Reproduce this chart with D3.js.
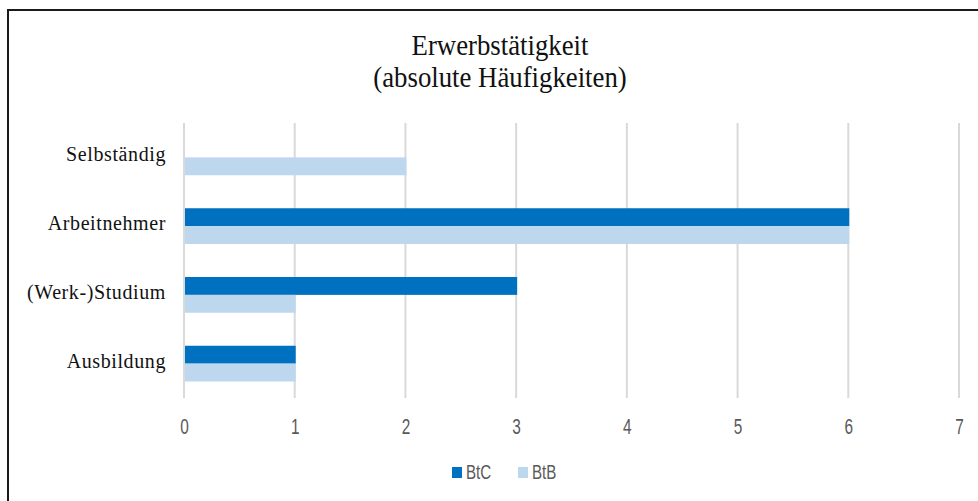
<!DOCTYPE html>
<html>
<head>
<meta charset="utf-8">
<script src="https://cdn.jsdelivr.net/npm/d3@7"></script>
<style>
	html, body { margin: 0; padding: 0; background: #fff; }
	#chart-holder { width: 978px; height: 501px; overflow: hidden; }
</style>
</head>
<body>
<div id="chart-holder"></div>
<script>
const categories = ['Selbständig', 'Arbeitnehmer', '(Werk-)Studium', 'Ausbildung'];
const seriesNames = ['BtC', 'BtB'];
const btcValues = [0, 6, 3, 1];
const btbValues = [2, 6, 1, 1];
const xTicks = [0, 1, 2, 3, 4, 5, 6, 7];
const titleLines = ['Erwerbstätigkeit', '(absolute Häufigkeiten)'];

const colors = { BtC: '#0070C0', BtB: '#BDD7EE' };

function drawChart() {
	const width = 978;
	const height = 501;
	const plot = { left: 184, right: 959, top: 123, bottom: 398 };
	const sansFont = '"Liberation Sans", Arial, sans-serif';
	const serifFont = '"Liberation Serif", "Times New Roman", serif';

	const svg = d3.select('#chart-holder').append('svg')
		.attr('width', width)
		.attr('height', height);

	// frame of the chart area (right and bottom edge run off the picture)
	svg.append('rect')
		.attr('x', 8)
		.attr('y', 10)
		.attr('width', 1000)
		.attr('height', 520)
		.attr('fill', 'none')
		.attr('stroke', '#1a1a1a')
		.attr('stroke-width', 2);

	// title, a bit tall like in the original
	const title = svg.append('g')
		.attr('transform', 'translate(500,0) scale(1.03,1.1)');
	title.append('text')
		.attr('text-anchor', 'middle')
		.attr('font-family', serifFont)
		.attr('font-size', 26)
		.attr('fill', '#111')
		.selectAll('tspan')
		.data(titleLines)
		.enter().append('tspan')
		.attr('x', 0)
		.attr('y', (d, i) => 50 + i * 29.5)
		.text(d => d);

	const xScale = d3.scaleLinear()
		.domain([0, 7])
		.range([plot.left, plot.right]);

	const yScale = d3.scaleBand()
		.domain(categories)
		.range([plot.top, plot.bottom])
		.paddingInner(0.48)
		.paddingOuter(0.24);

	const ySub = d3.scaleBand()
		.domain(seriesNames)
		.range([0, yScale.bandwidth()]);

	// grid lines
	svg.append('g')
		.selectAll('line')
		.data(xTicks)
		.enter().append('line')
		.attr('x1', d => xScale(d))
		.attr('x2', d => xScale(d))
		.attr('y1', plot.top)
		.attr('y2', plot.bottom)
		.attr('stroke', '#d9d9d9')
		.attr('stroke-width', 2);

	const rows = categories.map((c, i) => ({ cat: c, BtC: btcValues[i], BtB: btbValues[i] }));

	const groups = svg.append('g')
		.selectAll('g')
		.data(rows)
		.enter().append('g')
		.attr('transform', d => 'translate(0,' + yScale(d.cat) + ')');

	groups.selectAll('rect')
		.data(d => seriesNames.map(s => ({ s: s, v: d[s] })))
		.enter().append('rect')
		.attr('x', xScale(0) + 1)
		.attr('y', d => ySub(d.s))
		.attr('width', d => Math.max(0, xScale(d.v) - xScale(0)))
		.attr('height', ySub.bandwidth())
		.attr('fill', d => colors[d.s]);

	// x axis labels
	const xAxis = d3.axisBottom(xScale)
		.tickValues(xTicks)
		.tickFormat(d3.format('d'))
		.tickSize(0)
		.tickPadding(0);

	const xAxisG = svg.append('g')
		.attr('class', 'x-axis')
		.attr('transform', 'translate(0,' + (plot.bottom + 20) + ')')
		.call(xAxis);
	xAxisG.select('.domain').remove();
	xAxisG.selectAll('text')
		.attr('font-family', sansFont)
		.attr('font-size', 22)
		.attr('transform', 'scale(0.7,1)')
		.attr('fill', '#595959');

	// category labels
	const yAxis = d3.axisLeft(yScale)
		.tickSize(0)
		.tickPadding(18);

	const yAxisG = svg.append('g')
		.attr('class', 'y-axis')
		.attr('transform', 'translate(' + plot.left + ',0)')
		.call(yAxis);
	yAxisG.select('.domain').remove();
	yAxisG.selectAll('text')
		.attr('font-family', serifFont)
		.attr('font-size', 20)
		.attr('letter-spacing', 0.6)
		.attr('fill', '#111')
		.attr('dy', '0.2em');

	// legend
	const legendX = [452, 518];
	const legend = svg.append('g')
		.selectAll('g')
		.data(seriesNames)
		.enter().append('g')
		.attr('transform', (d, i) => 'translate(' + legendX[i] + ',467)');
	legend.append('rect')
		.attr('width', 10)
		.attr('height', 11)
		.attr('fill', d => colors[d]);
	legend.append('g')
		.attr('transform', 'translate(14,12) scale(0.72,1)')
		.append('text')
		.attr('font-family', sansFont)
		.attr('font-size', 21)
		.attr('fill', '#595959')
		.text(d => d);
}

drawChart();
</script>
</body>
</html>
